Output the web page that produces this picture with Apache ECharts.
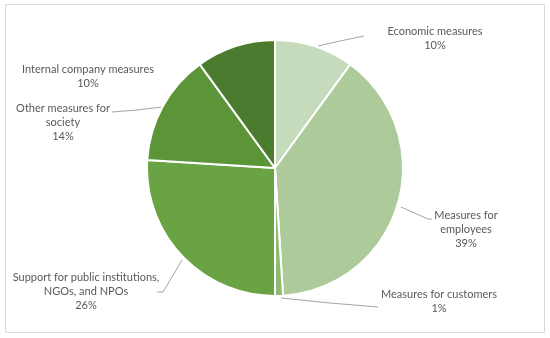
<!DOCTYPE html>
<html>
<head>
<meta charset="utf-8">
<script src="https://cdn.jsdelivr.net/npm/echarts@6/dist/echarts.min.js"></script>
<style>
html,body{margin:0;padding:0;background:#fff;}
#chart{width:550px;height:338px;}
</style>
</head>
<body>
<div id="chart"></div>
<script>
const categories = [
  'Economic measures',
  'Measures for\nemployees',
  'Measures for customers',
  'Support for public institutions,\nNGOs, and NPOs',
  'Other measures for\nsociety',
  'Internal company measures'
];
const values = [10, 39, 1, 26, 14, 10];
const colors = ['#c5dbbb', '#adca9b', '#8fbb70', '#69a343', '#5c9438', '#4b7b2e'];

// label placement (centre of text block) and leader-line points, per slice
const labelPos = [
  {x: 435, y: 38, line: [[318, 46], [340, 41], [364, 36]]},
  {x: 466, y: 229, line: [[401, 207], [428, 219], [432, 219]]},
  {x: 439, y: 301, line: [[281, 298], [330, 303], [378, 307]]},
  {x: 86, y: 291, line: [[182, 260], [163, 292], [157, 292]]},
  {x: 63, y: 122, line: [[162, 107], [137, 110], [112, 112]]},
  {x: 88, y: 76, line: null}
];

const chart = echarts.init(document.getElementById('chart'), null, {renderer: 'canvas'});
chart.setOption({
  animation: false,
  backgroundColor: '#ffffff',
  graphic: [{
    type: 'rect',
    shape: {x: 5.5, y: 4.5, width: 539, height: 328},
    style: {fill: 'none', stroke: '#d9d9d9', lineWidth: 1}
  }],
  series: [{
    type: 'pie',
    center: [275, 168],
    radius: 128,
    startAngle: 90,
    clockwise: true,
    avoidLabelOverlap: false,
    data: categories.map((n, i) => ({
      name: n,
      value: values[i],
      itemStyle: {color: colors[i]},
      labelLine: {show: labelPos[i].line !== null}
    })),
    itemStyle: {borderColor: '#ffffff', borderWidth: 2},
    label: {
      show: true,
      position: 'outside',
      formatter: '{b}\n{c}%',
      color: '#595959',
      fontFamily: 'Lato',
      fontSize: 11,
      lineHeight: 14,
      align: 'center'
    },
    labelLine: {
      show: true,
      lineStyle: {color: '#a6a6a6', width: 1}
    },
    labelLayout: function (params) {
      const p = labelPos[params.dataIndex];
      const out = {x: p.x, y: p.y, align: 'center', verticalAlign: 'middle'};
      if (p.line) out.labelLinePoints = p.line;
      return out;
    }
  }]
});
</script>
</body>
</html>
